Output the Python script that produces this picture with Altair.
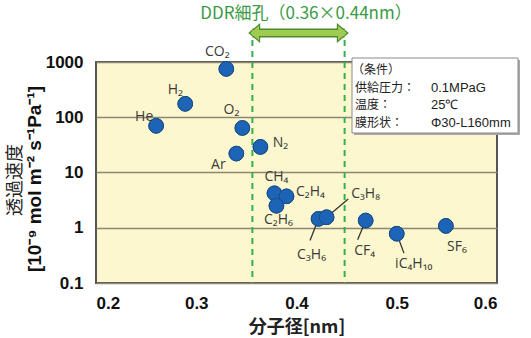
import altair as alt
import pandas as pd

# ---------------- data ----------------
GAS = ["He", "H2", "CO2", "O2", "Ar", "N2", "CH4", "C2H4", "C2H6",
       "C3H6", "C3H8", "CF4", "iC4H10", "SF6"]
GAS_LABEL = ["He", "H₂", "CO₂", "O₂", "Ar", "N₂", "CH₄", "C₂H₄", "C₂H₆",
             "C₃H₆", "C₃H₈", "CF₄", "iC₄H₁₀", "SF₆"]
DIAMETER_NM = [0.26, 0.289, 0.33, 0.346, 0.34, 0.364, 0.378, 0.39, 0.38,
               0.422, 0.43, 0.469, 0.50, 0.549]
PERMEANCE = [70, 175, 750, 64, 22, 29, 4.2, 3.7, 2.5,
             1.45, 1.55, 1.35, 0.78, 1.08]

DDR_PORE = [0.356, 0.448]
X_TICKS = [0.2, 0.3, 0.4, 0.5, 0.6]
Y_TICKS = [0.1, 1, 10, 100, 1000]

LEADER_GAS = ["C3H6", "C3H8", "CF4", "iC4H10"]
LEADER_END_X = [0.4135, 0.4516, 0.461, 0.5072]
LEADER_END_Y = [0.586, 3.3, 0.604, 0.347]

COND_KEYS = ["（条件）", "供給圧力：", "温度：", "膜形状："]
COND_VALUES = ["", "0.1MPaG", "25℃", "Φ30-L160mm"]

TITLE_TOP = "DDR細孔（0.36×0.44nm）"
Y_TITLE_1 = "透過速度"
Y_TITLE_2 = "[10⁻⁹ mol m⁻² s⁻¹Pa⁻¹]"
X_TITLE = "分子径[nm]"

# ---------------- style ----------------
LABEL_OFFSET = {
    "He": (-12, -9), "H2": (-10, -14), "CO2": (-9, -17), "O2": (-11, -18),
    "Ar": (-18, 11), "N2": (20, -4), "CH4": (2, -16), "C2H4": (24, -4),
    "C2H6": (2, 14), "C3H6": (-7, 36), "C3H8": (39, -23), "CF4": (-1, 30),
    "iC4H10": (17, 30), "SF6": (11, 21),
}
W, H = 401, 221
BG = "#FCF7CE"
GREEN_TXT = "#3A9A45"
GREEN_DASH = "#35B04A"
ARROW_FILL = "#9ECB52"
ARROW_EDGE = "#4F8A2C"

df = pd.DataFrame({"gas": GAS, "label": GAS_LABEL,
                   "d": DIAMETER_NM, "p": PERMEANCE})
lead = pd.DataFrame({"gas": LEADER_GAS, "x2": LEADER_END_X, "y2": LEADER_END_Y})
lead = lead.merge(df, on="gas")
ddr = pd.DataFrame({"x": DDR_PORE, "side": ["l", "r"]})
one = pd.DataFrame({"k": [0]})

xs = alt.Scale(domain=[0.2, 0.6], nice=False, zero=False)
ys = alt.Scale(type="log", domain=[0.1, 1000], nice=False)

XAX = alt.Axis(
    values=X_TICKS, format=".1f", title=X_TITLE, grid=False, ticks=False,
    domain=False, labelFont="Liberation Sans", labelFontWeight="bold",
    labelFontSize=17, labelColor="#111", labelPadding=12,
    titleFont="Noto Sans CJK JP", titleFontSize=18, titleFontWeight="bold",
    titleColor="#222", titlePadding=7)
YAX = alt.Axis(
    values=Y_TICKS, format="~g", title=None, grid=True,
    gridColor="#8C8672", gridWidth=1.4, ticks=False, domain=False,
    labelFont="Liberation Sans", labelFontWeight="bold",
    labelFontSize=17, labelColor="#111", labelPadding=13)


def X(f):
    return alt.X(f, scale=xs, axis=XAX, title=X_TITLE)


def Y(f):
    return alt.Y(f, scale=ys, axis=YAX, title=None)


points = alt.Chart(df).mark_circle(
    size=215, color="#1D63B6", opacity=1, stroke="#1A4C86", strokeWidth=1
).encode(x=X("d:Q"), y=Y("p:Q"))

leaders = alt.Chart(lead).mark_rule(color="#333", strokeWidth=1.3).encode(
    x=X("d:Q"), y=Y("p:Q"), x2="x2:Q", y2="y2:Q")

label_layers = []
for g in GAS:
    dx, dy = LABEL_OFFSET[g]
    label_layers.append(
        alt.Chart(df).transform_filter(alt.datum.gas == g).mark_text(
            dx=dx, dy=dy, font="Open Sans", fontSize=14, color="#3A3A3A",
            align="center", baseline="middle"
        ).encode(x=X("d:Q"), y=Y("p:Q"), text="label:N")
    )

dashes = alt.Chart(ddr).mark_rule(
    color=GREEN_DASH, strokeWidth=2, strokeDash=[6, 5]
).encode(x=X("x:Q"), y=alt.value(-22), y2=alt.value(H))

arrow_y = -29
shaft_outline = alt.Chart(ddr).mark_rule(color=ARROW_EDGE, strokeWidth=9).encode(
    x=X("min(x):Q"), x2="max(x):Q", y=alt.value(arrow_y))
head_l = alt.Chart(ddr).transform_filter(alt.datum.side == "l").mark_point(
    shape="M -0.6 0 L 0.6 -1 L 0.6 1 Z", size=300, filled=True,
    fill=ARROW_FILL, stroke=ARROW_EDGE, strokeWidth=1.2, opacity=1, xOffset=2
).encode(x=X("x:Q"), y=alt.value(arrow_y))
head_r = alt.Chart(ddr).transform_filter(alt.datum.side == "r").mark_point(
    shape="M 0.6 0 L -0.6 -1 L -0.6 1 Z", size=300, filled=True,
    fill=ARROW_FILL, stroke=ARROW_EDGE, strokeWidth=1.2, opacity=1, xOffset=-2
).encode(x=X("x:Q"), y=alt.value(arrow_y))
shaft_inner = alt.Chart(ddr).mark_rule(color=ARROW_FILL, strokeWidth=6).encode(
    x=X("min(x):Q"), x2="max(x):Q", y=alt.value(arrow_y))

top_title = alt.Chart(one).mark_text(
    font="Noto Sans CJK JP", fontSize=17, color=GREEN_TXT,
    align="center", baseline="middle"
).encode(x=alt.value(210), y=alt.value(-48), text=alt.value(TITLE_TOP))

y_t1 = alt.Chart(one).mark_text(
    font="Noto Sans CJK JP", fontSize=18, color="#222", angle=270,
    align="center", baseline="middle"
).encode(x=alt.value(-80), y=alt.value(118), text=alt.value(Y_TITLE_1))
y_t2 = alt.Chart(one).mark_text(
    font="Liberation Sans", fontSize=19, fontWeight="bold", color="#111",
    angle=270, align="center", baseline="middle"
).encode(x=alt.value(-61), y=alt.value(117), text=alt.value(Y_TITLE_2))

box_shadow = alt.Chart(one).mark_rect(fill="#A8A8A8").encode(
    x=alt.value(258), x2=alt.value(424), y=alt.value(-2), y2=alt.value(73))
box = alt.Chart(one).mark_rect(fill="white", stroke="#8A8A8A", strokeWidth=1).encode(
    x=alt.value(256), x2=alt.value(422), y=alt.value(-4), y2=alt.value(71))

cond_layers = []
for i, (k, v) in enumerate(zip(COND_KEYS, COND_VALUES)):
    yy = 8 + i * 17.7
    cond_layers.append(alt.Chart(one).mark_text(
        font="Noto Sans CJK JP", fontSize=12, color="#222",
        align="left", baseline="middle"
    ).encode(x=alt.value(259 if i else 256), y=alt.value(yy), text=alt.value(k)))
    if v:
        cond_layers.append(alt.Chart(one).mark_text(
            font="Liberation Sans Narrow, Liberation Sans", fontSize=13, color="#222",
            align="left", baseline="middle"
        ).encode(x=alt.value(335), y=alt.value(yy), text=alt.value(v)))

chart = alt.layer(
    points, dashes, leaders, points, *label_layers,
    shaft_outline, head_l, head_r, shaft_inner, top_title, y_t1, y_t2,
    box_shadow, box, *cond_layers
).properties(
    width=W, height=H,
    autosize=alt.AutoSizeParams(type="none"),
    padding={"left": 96, "top": 62, "right": 34, "bottom": 55},
    background="white",
).configure_view(fill=BG, stroke="#555", strokeWidth=2)

chart.save("out.html", embed_options={"renderer": "svg", "actions": False})
